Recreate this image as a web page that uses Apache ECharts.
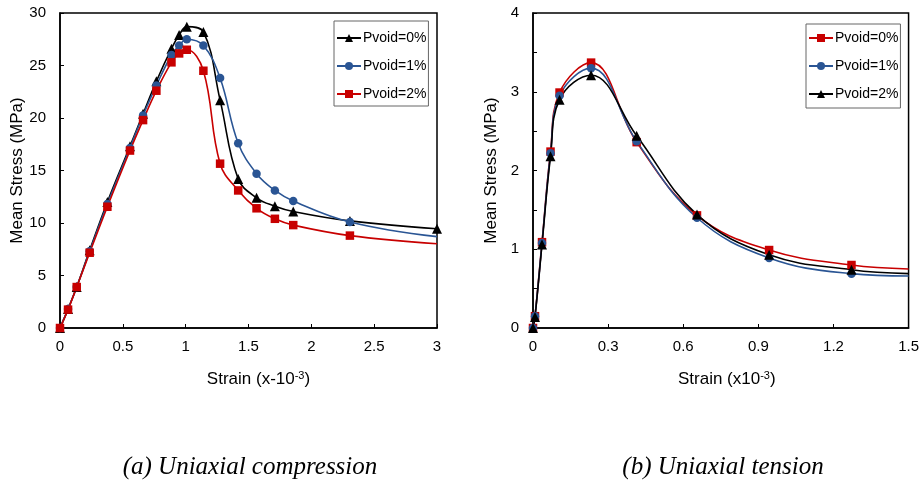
<!DOCTYPE html>
<html>
<head>
<meta charset="utf-8">
<script src="https://cdn.jsdelivr.net/npm/echarts@6/dist/echarts.min.js"></script>
<style>
html,body{margin:0;padding:0;background:#fff;}
#chart{width:922px;height:483px;}
</style>
</head>
<body>
<div id="chart"></div>
<script>
// ---- (a) Uniaxial compression ----
const compStrain = [0, 0.064, 0.133, 0.236, 0.377, 0.557, 0.661, 0.767, 0.887, 0.948, 1.009, 1.141, 1.274, 1.418, 1.564, 1.71, 1.856, 2.307, 3.0];
const compP0 = [0, 1.8, 3.9, 7.4, 12.0, 17.3, 20.4, 23.5, 26.6, 27.9, 28.7, 28.2, 21.7, 14.2, 12.4, 11.6, 11.1, 10.2, 9.45];
const compP1 = [0, 1.8, 3.9, 7.3, 11.8, 17.15, 20.25, 23.1, 26.0, 26.9, 27.5, 26.9, 23.8, 17.6, 14.7, 13.1, 12.1, 10.1, 8.7];
const compP2 = [0, 1.75, 3.9, 7.17, 11.55, 16.9, 19.8, 22.6, 25.3, 26.15, 26.5, 24.5, 15.65, 13.1, 11.4, 10.4, 9.8, 8.8, 8.03];
const compMarkerOnLast = [true, false, false];

// ---- (b) Uniaxial tension ----
const tensStrain = [0, 0.008, 0.036, 0.070, 0.106, 0.232, 0.414, 0.655, 0.943, 1.272, 1.5];
const tensP0 = [0, 0.15, 1.09, 2.24, 2.99, 3.37, 2.36, 1.43, 0.99, 0.80, 0.75];
const tensP1 = [0, 0.15, 1.08, 2.22, 2.95, 3.30, 2.37, 1.40, 0.89, 0.69, 0.66];
const tensP2 = [0, 0.14, 1.06, 2.18, 2.90, 3.21, 2.44, 1.44, 0.93, 0.74, 0.69];

const seriesNames = ['Pvoid=0%', 'Pvoid=1%', 'Pvoid=2%'];
const compTicksX = [0, 3, 0.5];
const compTicksY = [0, 30, 5];
const tensTicksX = [0, 1.5, 0.3];
const tensTicksY = [0, 4, 0.5];
const captions = ['(a) Uniaxial compression', '(b) Uniaxial tension'];

const RED = '#C80000', BLUE = '#2A5594', BLACK = '#000000';
const FONT = "'Liberation Sans', Arial, sans-serif";

function pts(xs, ys, lastMarker) {
  return xs.map((x, i) => {
    const item = { value: [x, ys[i]] };
    if (i === xs.length - 1 && !lastMarker) item.symbol = 'none';
    return item;
  });
}

function mkSeries(name, xs, ys, color, symbol, idx, lastMarker) {
  return {
    name: name, type: 'line', xAxisIndex: idx, yAxisIndex: idx,
    data: pts(xs, ys, lastMarker),
    smooth: 0.4,
    symbol: symbol, symbolSize: symbol === 'triangle' ? 10 : (symbol === 'rect' ? 8.5 : 8.5),
    lineStyle: { color: color, width: 1.6 },
    itemStyle: { color: color },
    z: 3
  };
}

function xAxis(idx, ticks, nameRich, padLeft) {
  return {
    type: 'value', gridIndex: idx, min: ticks[0], max: ticks[1], interval: ticks[2],
    axisLine: { show: true, onZero: false, lineStyle: { color: '#000', width: 1.5 } },
    axisTick: { show: true, inside: true, length: 4, lineStyle: { color: '#000', width: 1 } },
    axisLabel: { color: '#000', fontSize: 15, fontFamily: FONT, margin: 11 },
    splitLine: { show: false },
    name: nameRich, nameLocation: 'middle', nameGap: 42,
    nameTextStyle: {
      color: '#000', fontSize: 17, fontFamily: FONT, padding: [0, 0, 0, padLeft],
      rich: { sup: { fontSize: 11, fontFamily: FONT, color: '#000', verticalAlign: 'top', padding: [0, 0, 7, 0] } }
    }
  };
}

function yAxis(idx, ticks, integerOnly) {
  return {
    type: 'value', gridIndex: idx, min: ticks[0], max: ticks[1], interval: ticks[2],
    axisLine: { show: true, onZero: false, lineStyle: { color: '#000', width: 1.5 } },
    axisTick: { show: true, inside: true, length: 4, lineStyle: { color: '#000', width: 1 } },
    axisLabel: {
      color: '#000', fontSize: 15, fontFamily: FONT, margin: 14,
      formatter: v => (integerOnly && Math.abs(v - Math.round(v)) > 1e-6) ? '' : String(v)
    },
    splitLine: { show: false },
    name: 'Mean Stress (MPa)', nameLocation: 'middle', nameGap: 33, nameRotate: 90,
    nameTextStyle: { color: '#000', fontSize: 17, fontFamily: FONT }
  };
}

function legend(left, top, names, pad) {
  return {
    orient: 'vertical', left: left, top: top,
    data: names,
    formatter: n => n.trim(),
    itemWidth: 24, itemHeight: 10, itemGap: 14,
    padding: pad,
    borderColor: '#666', borderWidth: 1, backgroundColor: '#fff',
    textStyle: { color: '#000', fontSize: 14, fontFamily: FONT, padding: [0, 0, 0, -3] },
    selectedMode: false
  };
}

// the right panel's series get distinct internal names so each legend maps to its own panel
const tensNames = seriesNames.map(n => n + ' ');

const option = {
  animation: false,
  backgroundColor: '#fff',
  title: [
    { text: captions[0], left: 245, top: 450, textAlign: 'center',
      textStyle: { fontFamily: "'Liberation Serif', 'Times New Roman', serif", fontStyle: 'italic', fontWeight: 'normal', fontSize: 25, color: '#000' } },
    { text: captions[1], left: 718, top: 450, textAlign: 'center',
      textStyle: { fontFamily: "'Liberation Serif', 'Times New Roman', serif", fontStyle: 'italic', fontWeight: 'normal', fontSize: 25, color: '#000' } }
  ],
  grid: [
    { left: 60, top: 13, width: 377, height: 315, show: true, borderColor: '#000', borderWidth: 1.5, backgroundColor: 'transparent' },
    { left: 533, top: 13, width: 377, height: 315, show: true, borderColor: '#000', borderWidth: 1.5, backgroundColor: 'transparent' }
  ],
  xAxis: [
    xAxis(0, compTicksX, 'Strain (x-10{sup|-3})', 20),
    xAxis(1, tensTicksX, 'Strain (x10{sup|-3})', 12)
  ],
  yAxis: [
    yAxis(0, compTicksY, false),
    yAxis(1, tensTicksY, true)
  ],
  legend: [
    legend(334, 21, seriesNames, [10, 2, 5, 2]),
    legend(806, 24, tensNames, [7, 2, 7, 2])
  ],
  series: [
    mkSeries(seriesNames[0], compStrain, compP0, BLACK, 'triangle', 0, compMarkerOnLast[0]),
    mkSeries(seriesNames[1], compStrain, compP1, BLUE, 'circle', 0, compMarkerOnLast[1]),
    mkSeries(seriesNames[2], compStrain, compP2, RED, 'rect', 0, compMarkerOnLast[2]),
    mkSeries(tensNames[0], tensStrain, tensP0, RED, 'rect', 1, false),
    mkSeries(tensNames[1], tensStrain, tensP1, BLUE, 'circle', 1, false),
    mkSeries(tensNames[2], tensStrain, tensP2, BLACK, 'triangle', 1, false)
  ]
};

const chart = echarts.init(document.getElementById('chart'), null, { renderer: 'canvas' });
chart.setOption(option);
</script>
</body>
</html>
